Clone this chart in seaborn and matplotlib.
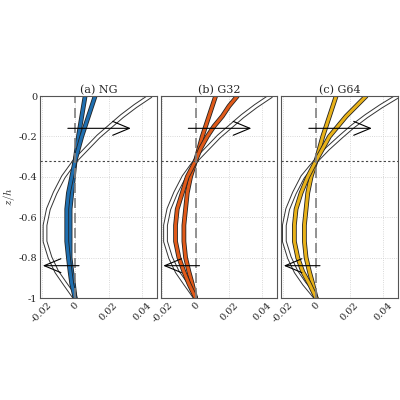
import numpy as np
import pandas as pd
import seaborn as sns
import matplotlib.pyplot as plt
import matplotlib.patheffects as pe

sns.set_style("white")
plt.rcParams['font.family'] = ['DejaVu Serif']
plt.rcParams['mathtext.fontset'] = 'cm'

z = [0, -0.05, -0.1, -0.15, -0.2, -0.26, -0.32, -0.4, -0.48, -0.56, -0.64, -0.72, -0.8, -0.87, -0.93, -1.0]
titles = ["(a) NG", "(b) G32", "(c) G64"]
colors = ["#1f6fb0", "#e05a1a", "#e8b21a"]
# black reference profile per panel
ref = [[0.045, 0.036, 0.028, 0.021, 0.014, 0.007, 0.0, -0.007, -0.012, -0.016, -0.018, -0.018, -0.015, -0.011, -0.006, 0.0],
       [0.045, 0.036, 0.028, 0.021, 0.014, 0.007, 0.0, -0.007, -0.012, -0.016, -0.018, -0.018, -0.015, -0.011, -0.006, 0.0],
       [0.049, 0.039, 0.030, 0.022, 0.015, 0.007, 0.0, -0.008, -0.013, -0.017, -0.019, -0.019, -0.016, -0.012, -0.007, 0.0]]
c1 = [[0.006, 0.005, 0.004, 0.003, 0.002, 0.001, 0.0, -0.001, -0.002, -0.003, -0.003, -0.003, -0.003, -0.002, -0.001, 0.0],
      [0.012, 0.010, 0.008, 0.006, 0.004, 0.002, 0.0, -0.003, -0.005, -0.006, -0.007, -0.007, -0.006, -0.004, -0.002, 0.0],
      [0.012, 0.010, 0.008, 0.006, 0.004, 0.002, 0.0, -0.003, -0.005, -0.006, -0.007, -0.007, -0.006, -0.004, -0.002, 0.0]]
c2 = [[0.012, 0.010, 0.008, 0.006, 0.004, 0.002, 0.0, -0.002, -0.004, -0.005, -0.005, -0.005, -0.004, -0.003, -0.002, 0.0],
      [0.025, 0.020, 0.016, 0.011, 0.007, 0.003, 0.0, -0.005, -0.008, -0.011, -0.012, -0.012, -0.010, -0.007, -0.004, 0.0],
      [0.030, 0.024, 0.018, 0.013, 0.008, 0.004, 0.0, -0.005, -0.009, -0.012, -0.013, -0.013, -0.011, -0.008, -0.004, 0.0]]

fig, axes = plt.subplots(1, 3, figsize=(4, 4), dpi=100, sharey=True)
fig.subplots_adjust(left=0.1, right=0.995, top=0.76, bottom=0.255, wspace=0.03)

for i, ax in enumerate(axes):
    df = pd.DataFrame({"z": z, "ref": ref[i], "c1": c1[i], "c2": c2[i]})
    ax.grid(True, ls=":", color="#cccccc", lw=0.6)
    sns.lineplot(data=df, x="ref", y="z", sort=False, orient="y", ax=ax, color="white", lw=2,
                 path_effects=[pe.Stroke(linewidth=3.4, foreground="#333333"), pe.Normal()])
    for col in ["c1", "c2"]:
        sns.lineplot(data=df, x=col, y="z", sort=False, orient="y", ax=ax, color=colors[i], lw=2.2,
                     path_effects=[pe.Stroke(linewidth=3.4, foreground="#222222"), pe.Normal()])
    ax.axvline(0, color="gray", ls=(0, (6, 3)), lw=1.2)
    ax.axhline(-0.32, color="#444444", ls=(0, (2, 2)), lw=0.8)
    ax.annotate("", xy=(0.035, -0.16), xytext=(-0.006, -0.16),
                arrowprops=dict(arrowstyle="->,head_length=1.2,head_width=0.5", color="black", lw=0.8))
    ax.annotate("", xy=(-0.021, -0.84), xytext=(0.004, -0.84),
                arrowprops=dict(arrowstyle="->,head_length=1.2,head_width=0.5", color="black", lw=0.8))
    ax.set_xlim(-0.021, 0.049)
    ax.set_ylim(-1, 0)
    ax.set_xticks([-0.02, 0, 0.02, 0.04])
    ax.set_xticklabels(["-0.02", "0", "0.02", "0.04"], rotation=45, fontsize=7)
    ax.set_title(titles[i], fontsize=8, pad=2)
    ax.set_xlabel("")
    ax.set_ylabel("")
    ax.tick_params(direction="in", length=2, labelsize=7, pad=2)
    for s in ax.spines.values():
        s.set_color("#555555")

axes[0].set_yticks([0, -0.2, -0.4, -0.6, -0.8, -1])
axes[0].set_yticklabels(["0", "-0.2", "-0.4", "-0.6", "-0.8", "-1"])
axes[0].set_ylabel("$z/h$", fontsize=8, labelpad=1)

fig.savefig("out.png", dpi=100)
